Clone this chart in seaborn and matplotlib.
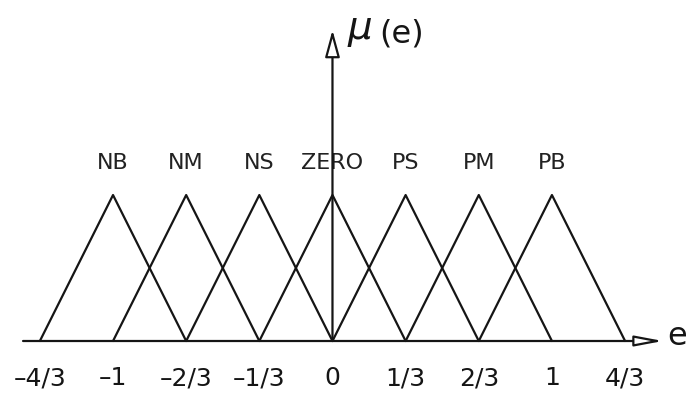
import pandas as pd
import seaborn as sns
import matplotlib.pyplot as plt

# fuzzy sets for the error e: (left foot, peak, right foot)
terms = ['NB', 'NM', 'NS', 'ZERO', 'PS', 'PM', 'PB']
left_feet = [-4/3, -1, -2/3, -1/3, 0, 1/3, 2/3]
peaks = [-1, -2/3, -1/3, 0, 1/3, 2/3, 1]
right_feet = [-2/3, -1/3, 0, 1/3, 2/3, 1, 4/3]

tick_values = [-4/3, -1, -2/3, -1/3, 0, 1/3, 2/3, 1, 4/3]
tick_labels = ['\u20134/3', '\u20131', '\u20132/3', '\u20131/3', '0', '1/3', '2/3', '1', '4/3']

rows = []
for t, a, b, c in zip(terms, left_feet, peaks, right_feet):
    rows += [(t, a, 0.0), (t, b, 1.0), (t, c, 0.0)]
df = pd.DataFrame(rows, columns=['term', 'e', 'mu'])

sns.set_style('white')
plt.rcParams['font.family'] = ['DejaVu Sans']
ink = '#151515'

fig = plt.figure(figsize=(6.88, 3.94), dpi=100)
ax = fig.add_axes([0, 53/394, 1, 341/394])

sns.lineplot(data=df, x='e', y='mu', units='term', estimator=None, sort=False,
             color=ink, linewidth=1.6, ax=ax, legend=False)
for line in ax.lines:
    line.set_clip_on(False)

ax.set_xlim(-1.515, 1.620)
ax.set_ylim(0, 2.336)
for s in ax.spines.values():
    s.set_visible(False)

ax.set_xticks(tick_values)
ax.set_xticklabels(tick_labels, fontsize=18, color=ink)
ax.tick_params(axis='x', length=0, pad=18)
ax.set_yticks([])
ax.set_xlabel('')
ax.set_ylabel('')

# term names above the peaks
for t, b in zip(terms, peaks):
    ax.text(b, 1.22, t, ha='center', va='center', fontsize=16, color='#222222')

# axes with open arrow heads
ax.annotate('', xy=(1.506, 0), xytext=(-1.41, 0), annotation_clip=False,
            arrowprops=dict(arrowstyle='-|>,head_length=1.7,head_width=0.32',
                            fc='white', ec=ink, lw=1.6, shrinkA=0, shrinkB=0))
ax.annotate('', xy=(0, 2.13), xytext=(0, 0), annotation_clip=False,
            arrowprops=dict(arrowstyle='-|>,head_length=1.65,head_width=0.45',
                            fc='white', ec=ink, lw=1.6, shrinkA=0, shrinkB=0))
ax.text(1.525, 0.03, 'e', ha='left', va='center', fontsize=23, color=ink)
ax.text(0.065, 2.13, r'$\mu$', ha='left', va='center', fontsize=28, color=ink)
ax.text(0.215, 2.10, '(e)', ha='left', va='center', fontsize=23, color=ink)

fig.savefig('out.png', dpi=100)
